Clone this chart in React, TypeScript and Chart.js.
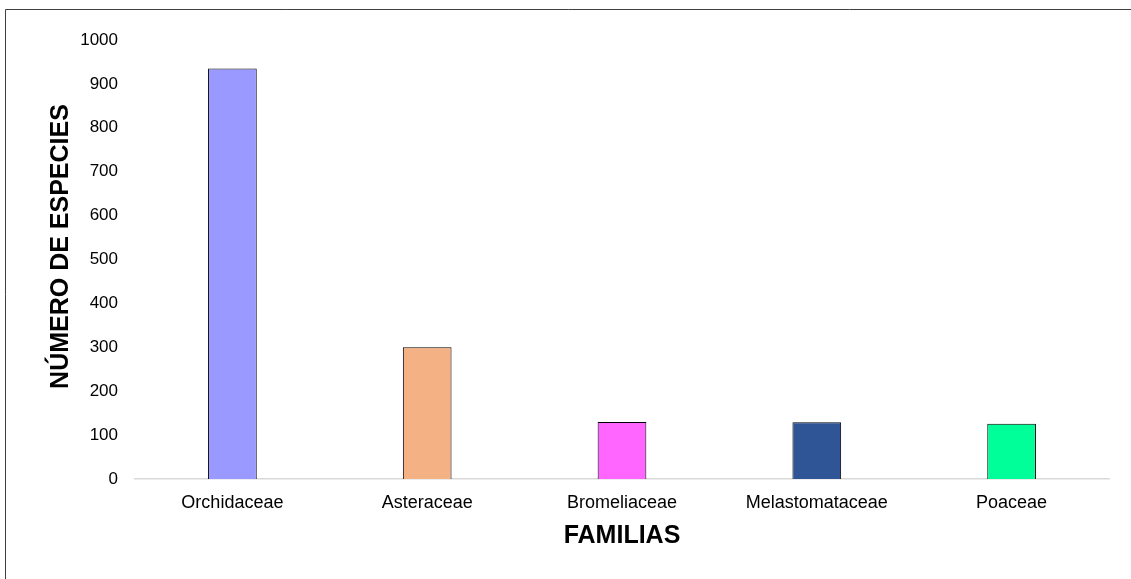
import React, { useEffect, useRef } from "react";
import { Chart, registerables } from "chart.js";

Chart.register(...registerables);

const categories = ["Orchidaceae", "Asteraceae", "Bromeliaceae", "Melastomataceae", "Poaceae"];
const speciesCounts = [935, 300, 130, 129, 126];
const barColors = ["#9999FF", "#F4B183", "#FF66FF", "#2F5597", "#00FF99"];
const yTitle = "NÚMERO DE ESPECIES";
const xTitle = "FAMILIAS";

const framePlugin = {
  id: "frame",
  beforeDraw(chart: any) {
    const ctx = chart.ctx;
    ctx.save();
    ctx.fillStyle = "#ffffff";
    ctx.fillRect(0, 0, chart.width, chart.height);
    ctx.strokeStyle = "#404040";
    ctx.lineWidth = 1;
    ctx.beginPath();
    ctx.moveTo(5.5, chart.height);
    ctx.lineTo(5.5, 9.5);
    ctx.lineTo(chart.width, 9.5);
    ctx.stroke();
    ctx.restore();
  },
  afterDraw(chart: any) {
    const ctx = chart.ctx;
    const yScale = chart.scales.y;
    ctx.save();
    ctx.translate(yScale.left + 61, (yScale.top + yScale.bottom) / 2 - 13);
    ctx.rotate(-Math.PI / 2);
    ctx.fillStyle = "#000";
    ctx.font = "bold 25px 'Liberation Sans', Arial";
    ctx.textAlign = "center";
    ctx.textBaseline = "middle";
    ctx.fillText(yTitle, 0, 0);
    ctx.restore();
  },
};

export default function App() {
  const ref = useRef<HTMLCanvasElement | null>(null);
  useEffect(() => {
    if (!ref.current) return;
    const chart = new Chart(ref.current, {
      type: "bar",
      data: {
        labels: categories,
        datasets: [
          {
            data: speciesCounts,
            backgroundColor: barColors,
            borderColor: "#000000",
            borderWidth: 1,
            barPercentage: 0.25,
            categoryPercentage: 1,
          },
        ],
      },
      options: {
        animation: false,
        responsive: false,
        maintainAspectRatio: false,
        layout: { padding: { left: 0, top: 40, right: 22, bottom: 0 } },
        plugins: { legend: { display: false }, tooltip: { enabled: false } },
        scales: {
          x: {
            grid: { display: false, drawTicks: false },
            border: { display: true, color: "#d9d9d9", width: 1.5 },
            ticks: { color: "#000", font: { family: "Liberation Sans, Arial", size: 18 }, padding: 13, maxRotation: 0 },
            title: {
              display: true,
              text: xTitle,
              color: "#000",
              font: { family: "Liberation Sans, Arial", size: 25, weight: "bold" },
              padding: { top: 4, bottom: 28 },
            },
            afterFit: (s: any) => {
              s.height = 100;
            },
          },
          y: {
            min: 0,
            max: 1000,
            grid: { display: false, drawTicks: false },
            border: { display: false },
            ticks: {
              stepSize: 100,
              color: "#000",
              font: { family: "Liberation Sans, Arial", size: 17 },
              padding: 17,
              callback: (v: any) => String(v),
            },
            title: { display: false, text: yTitle },
            afterFit: (s: any) => {
              s.width = 135;
            },
          },
        },
      },
      plugins: [framePlugin],
    });
    return () => chart.destroy();
  }, []);
  return (
    <div style={{ position: "fixed", left: 0, top: 0, width: 1131, height: 579 }}>
      <canvas ref={ref} width={1131} height={579} style={{ display: "block", width: 1131, height: 579 }} />
    </div>
  );
}
